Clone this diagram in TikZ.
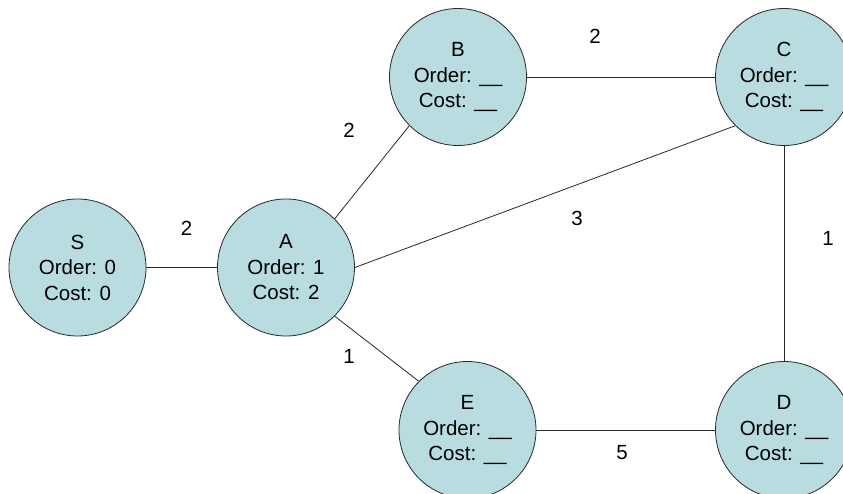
\documentclass[tikz,border=0pt]{standalone}
\usepackage{fontspec}
\setmainfont{Liberation Sans}
\definecolor{nodefill}{RGB}{184,220,224}
\definecolor{inkline}{RGB}{40,40,40}
\begin{document}
\begin{tikzpicture}[x=1pt,y=-1pt,
  state/.style={circle,draw=inkline,line width=0.8pt,fill=nodefill,
    minimum size=137pt,inner sep=0pt,align=center,
    font=\fontsize{20.5}{25.5}\selectfont},
  edge/.style={draw=inkline,line width=0.8pt},
  weight/.style={inner sep=0pt,font=\fontsize{20.5}{24}\selectfont}]
\useasboundingbox (0,0) rectangle (843,494);

% vertices
\node[state] (S) at (77.5,267.5) {S\\Order: 0\\Cost: 0};
\node[state] (A) at (286,267.5) {A\\Order: 1\\Cost: 2};
\node[state] (B) at (458,77) {B\\Order: \_\_\\Cost: \_\_};
\node[state] (C) at (784,77) {C\\Order: \_\_\\Cost: \_\_};
\node[state] (D) at (784,430) {D\\Order: \_\_\\Cost: \_\_};
\node[state] (E) at (467.5,430) {E\\Order: \_\_\\Cost: \_\_};

% edges
\draw[edge] (S.east) -- (A.west);
\draw[edge] (A.north east) -- (B.south west);
\draw[edge] (A.east) -- (C.south west);
\draw[edge] (A.south east) -- (E.north west);
\draw[edge] (B.east) -- (C.west);
\draw[edge] (C.south) -- (D.north);
\draw[edge] (E.east) -- (D.west);

% edge weights
\node[weight] (wSA) at (186.5,228) {2};
\node[weight] (wAB) at (349,130) {2};
\node[weight] (wBC) at (595,36) {2};
\node[weight] (wAC) at (577,218) {3};
\node[weight] (wCD) at (828,238) {1};
\node[weight] (wAE) at (349,356) {1};
\node[weight] (wED) at (622,453) {5};
\end{tikzpicture}
\end{document}
